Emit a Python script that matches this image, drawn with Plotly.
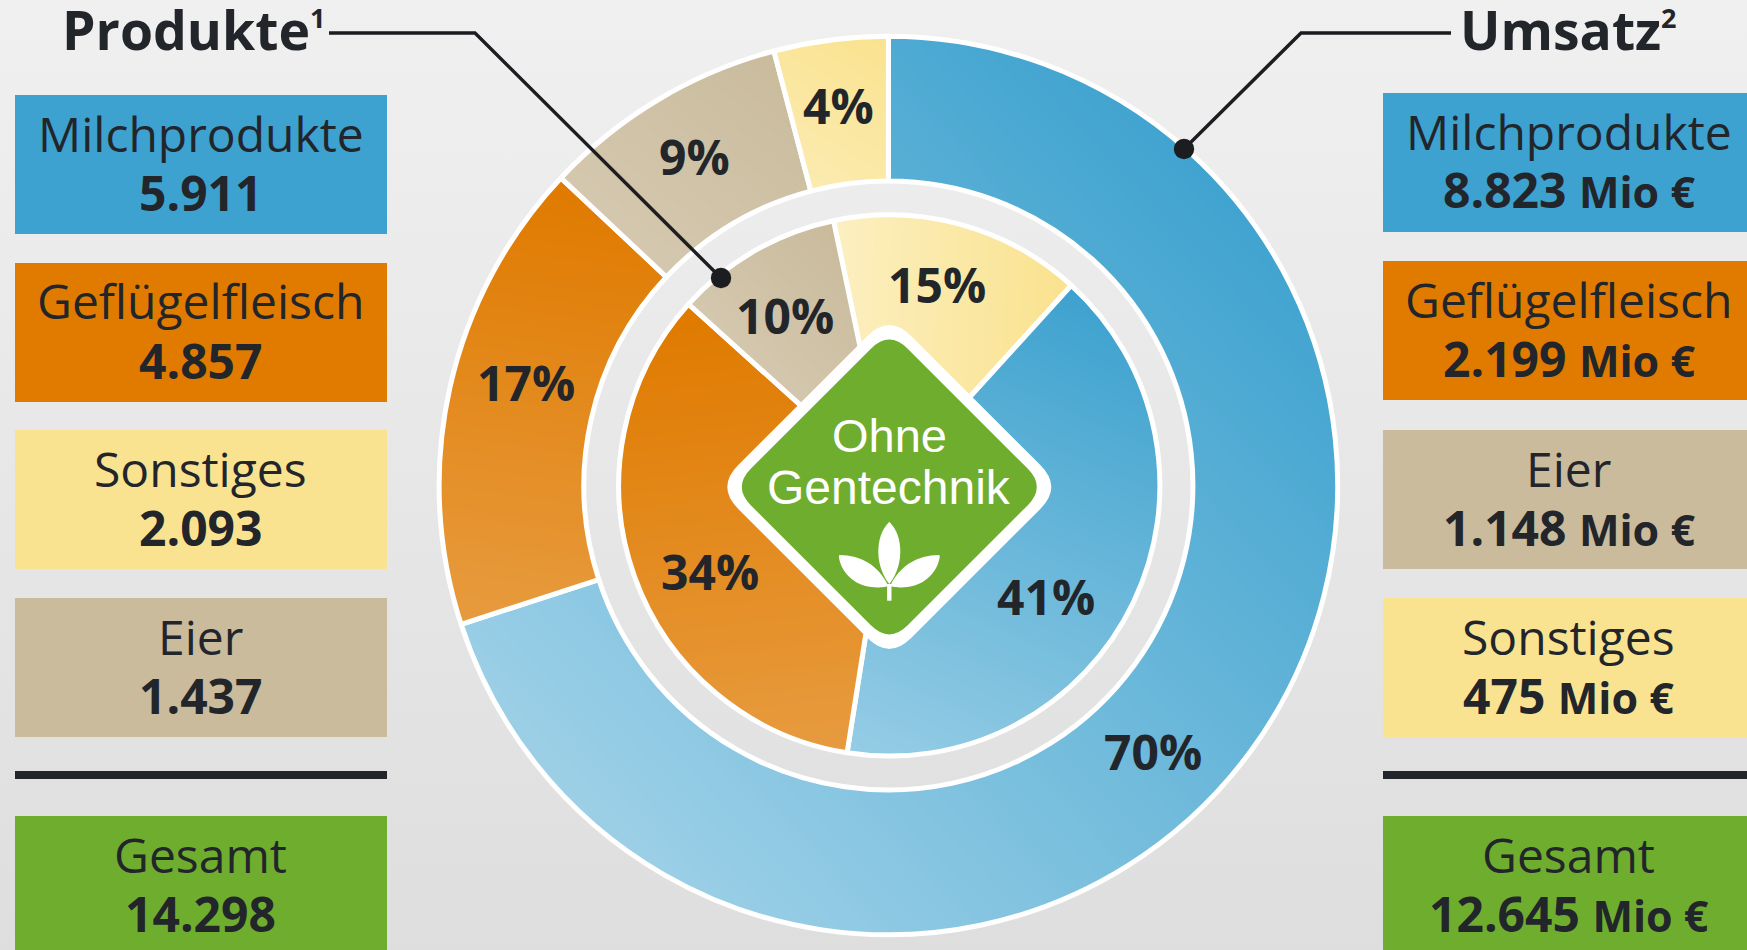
import base64
import math
import plotly.graph_objects as go

W, H = 1747, 950

# ---------- data ----------
product_categories = ["Milchprodukte", "Geflügelfleisch", "Sonstiges", "Eier"]
product_values = [5911, 4857, 2093, 1437]
product_total = 14298
revenue_categories = ["Milchprodukte", "Geflügelfleisch", "Eier", "Sonstiges"]
revenue_values = [8823, 2199, 1148, 475]
revenue_total = 12645
inner_ring_order = ["Sonstiges", "Milchprodukte", "Geflügelfleisch", "Eier"]
inner_ring_share = [15.05, 40.75, 34.2, 10.0]
outer_ring_order = ["Milchprodukte", "Geflügelfleisch", "Eier", "Sonstiges"]
outer_ring_share = [70, 17, 8.9, 4.1]
total_label = "Gesamt"
unit_label = "Mio €"
left_title = "Produkte"
left_note = "1"
right_title = "Umsatz"
right_note = "2"
badge_lines = ["Ohne", "Gentechnik"]

# ---------- styles and layout (pixels) ----------
INK = "#22262b"
LINE_INK = "#1c1d21"
COLORS = {"Milchprodukte": "#3da2cf", "Geflügelfleisch": "#e07b00",
          "Sonstiges": "#fae390", "Eier": "#cabb9c", total_label: "#6fad2f"}
CY = 485.5
CX_OUT, CX_IN = 888.4, 889.3
R_OUT, R_OUT_HOLE = 449.3, 304.5
R_IN = 270.6
ROT_IN, ROT_OUT = -11.9, 0.0
BORDER = 5
SANS = "Open Sans"
BADGE_FONT = "Liberation Sans"

# lightening overlay per slice: x1, y1, x2, y2, alpha at start, alpha at end
OUTER_GRAD = {"Milchprodukte": (1270, 180, 560, 860, 0.0, 0.52),
              "Geflügelfleisch": (560, 190, 500, 620, 0.0, 0.24),
              "Eier": (800, 60, 620, 280, 0.0, 0.22),
              "Sonstiges": (880, 40, 790, 190, 0.0, 0.32)}
INNER_GRAD = {"Milchprodukte": (1070, 280, 860, 760, 0.0, 0.46),
              "Geflügelfleisch": (690, 320, 740, 750, 0.0, 0.24),
              "Sonstiges": (1060, 280, 830, 270, 0.0, 0.45),
              "Eier": (850, 240, 700, 380, 0.0, 0.24)}
PCT_POS_OUT = {"Milchprodukte": (1153, 751), "Geflügelfleisch": (526, 382),
               "Eier": (694, 157), "Sonstiges": (838, 105)}
PCT_POS_IN = {"Milchprodukte": (1046, 596), "Geflügelfleisch": (710, 571),
              "Sonstiges": (937, 284), "Eier": (785, 316)}
LEFT_CALLOUT = [(329, 33), (475, 33), (721, 278)]
RIGHT_CALLOUT = [(1451, 33), (1301, 33), (1184, 149)]
DOT_R = 10.2
CALLOUT_W = 3.4


def px(x):
    return x / W


def py(y):
    return 1 - y / H


def de(n):
    return f"{n:,}".replace(",", ".")


def data_uri(svg):
    return "data:image/svg+xml;base64," + base64.b64encode(svg.encode()).decode()


def diamond(cx, cy, D, a):
    """Rounded diamond as SVG path in pixels."""
    s = a / math.sqrt(2)
    pts = [(cx, cy - D), (cx + D, cy), (cx, cy + D), (cx - D, cy)]
    d = ""
    for i, (x, y) in enumerate(pts):
        px0, py0 = pts[i - 1]
        nx, ny = pts[(i + 1) % 4]
        sx = x + (px0 - x) / abs(px0 - x) * s
        sy = y + (py0 - y) / abs(py0 - y) * s
        ex = x + (nx - x) / abs(nx - x) * s
        ey = y + (ny - y) / abs(ny - y) * s
        d += f"{'M' if i == 0 else 'L'}{sx},{sy} Q{x},{y} {ex},{ey} "
    return d + "Z"


def to_paper(path_px):
    """Converts an absolute M/L/C/Q/Z pixel path to paper coordinates."""
    res, is_x = [], True
    for tok in path_px.replace(",", " ").split():
        if tok[0] in "MLCQZ":
            res.append(tok[0])
            tok = tok[1:]
            is_x = True
        if tok:
            v = float(tok)
            res.append(f"{px(v):.6f}," if is_x else f"{py(v):.6f} ")
            is_x = not is_x
    return "".join(res)


def wedge(cx, r0, r1, a0, a1):
    def p(r, a):
        t = math.radians(a)
        return cx + r * math.sin(t), CY - r * math.cos(t)
    large = 1 if a1 - a0 > 180 else 0
    x0, y0 = p(r1, a0)
    x1, y1 = p(r1, a1)
    if r0 <= 0:
        return f"M{cx},{CY} L{x0},{y0} A{r1},{r1} 0 {large} 1 {x1},{y1} Z"
    x2, y2 = p(r0, a1)
    x3, y3 = p(r0, a0)
    return (f"M{x0},{y0} A{r1},{r1} 0 {large} 1 {x1},{y1} L{x2},{y2} "
            f"A{r0},{r0} 0 {large} 0 {x3},{y3} Z")


# ---------- pies ----------
def pie(order, vals, cx, r, hole, rot, name):
    return go.Pie(labels=order, values=vals, name=name, sort=False,
                  direction="clockwise", rotation=rot, hole=hole,
                  textinfo="none", hoverinfo="label+percent", showlegend=False,
                  domain=dict(x=[px(cx - r), px(cx + r)],
                              y=[py(CY + r), py(CY - r)]),
                  marker=dict(colors=[COLORS[c] for c in order],
                              line=dict(color="white", width=BORDER)))


fig = go.Figure([pie(outer_ring_order, outer_ring_share, CX_OUT, R_OUT, R_OUT_HOLE / R_OUT, ROT_OUT, "Umsatz"),
                 pie(inner_ring_order, inner_ring_share, CX_IN, R_IN, 0, ROT_IN, "Produkte")])

# ---------- background and gradient overlays ----------
bg_svg = (f'<svg xmlns="http://www.w3.org/2000/svg" width="{W}" height="{H}">'
          '<defs><linearGradient id="b" x1="0" y1="0" x2="0" y2="1">'
          '<stop offset="0" stop-color="#f0f0f0"/><stop offset="1" stop-color="#dedede"/>'
          f'</linearGradient></defs><rect width="{W}" height="{H}" fill="url(#b)"/></svg>')

BADGE_CX, BADGE_CY = 889.3, 487.0
white_diamond = diamond(BADGE_CX, BADGE_CY, 173, 31)

defs, paths = "", ""


def add_ring(order, vals, grads, cx, r0, r1, rot, tag):
    global defs, paths
    total = sum(vals)
    a = rot
    for c, v in zip(order, vals):
        sweep = 360 * v / total
        x1, y1, x2, y2, o1, o2 = grads[c]
        gid = f"{tag}{order.index(c)}"
        defs += (f'<linearGradient id="{gid}" gradientUnits="userSpaceOnUse" '
                 f'x1="{x1}" y1="{y1}" x2="{x2}" y2="{y2}">'
                 f'<stop offset="0" stop-color="#fff" stop-opacity="{o1}"/>'
                 f'<stop offset="1" stop-color="#fff" stop-opacity="{o2}"/></linearGradient>')
        paths += f'<path d="{wedge(cx, r0, r1, a, a + sweep)}" fill="url(#{gid})"/>'
        a += sweep


add_ring(outer_ring_order, outer_ring_share, OUTER_GRAD, CX_OUT, R_OUT_HOLE, R_OUT - 1, ROT_OUT, "o")
add_ring(inner_ring_order, inner_ring_share, INNER_GRAD, CX_IN, 0, R_IN - 1, ROT_IN, "i")


def poly(points):
    return "M" + " L".join(f"{x},{y}" for x, y in points)


mask_cut = f'<path d="{white_diamond}" fill="#000"/>'
for pts in (LEFT_CALLOUT, RIGHT_CALLOUT):
    mask_cut += (f'<path d="{poly(pts)}" fill="none" stroke="#000" '
                 f'stroke-width="{CALLOUT_W + 1.5}"/>'
                 f'<circle cx="{pts[-1][0]}" cy="{pts[-1][1]}" r="{DOT_R + 0.5}" fill="#000"/>')
overlay_svg = (f'<svg xmlns="http://www.w3.org/2000/svg" width="{W}" height="{H}">'
               f'<defs>{defs}<mask id="m" maskUnits="userSpaceOnUse" x="0" y="0" '
               f'width="{W}" height="{H}"><rect width="{W}" height="{H}" fill="#fff"/>'
               f'{mask_cut}</mask></defs><g mask="url(#m)">{paths}</g></svg>')

full = dict(xref="paper", yref="paper", x=0, y=1, sizex=1, sizey=1,
            xanchor="left", yanchor="top", sizing="stretch")
images = [dict(source=data_uri(bg_svg), layer="below", **full),
          dict(source=data_uri(overlay_svg), layer="above", **full)]

# ---------- boxes, badge ----------
shapes, annos = [], []


def rect(x0, y0, x1, y1, color):
    shapes.append(dict(type="rect", xref="paper", yref="paper", x0=px(x0), x1=px(x1),
                       y0=py(y1), y1=py(y0), fillcolor=color, line_width=0))


def text(x, y, s, size, weight=400, color=INK, family=SANS):
    annos.append(dict(xref="paper", yref="paper", x=px(x), y=py(y), text=s,
                      showarrow=False, xanchor="center", yanchor="middle",
                      align="center",
                      font=dict(family=family, size=size, color=color, weight=weight)))


LEFT_BOX = (15, 387, 200.7)
RIGHT_BOX = (1383, 1760, 1568.5)
LEFT_TOPS = [95, 263, 430, 598]
RIGHT_TOPS = [93, 261, 430, 598]
BOX_H = 139
TOTAL_TOP = 816
LABEL_DY, VALUE_DY = 38, 97


def column(box, tops, cats, vals, total, fmt):
    x0, x1, xc = box
    for top, c, v in zip(tops, cats, vals):
        rect(x0, top, x1, top + BOX_H, COLORS[c])
        text(xc, top + LABEL_DY, c, 48)
        text(xc, top + VALUE_DY, fmt(v), 48, 700)
    rect(x0, 771, x1, 779, INK)
    rect(x0, TOTAL_TOP, x1, H + 5, COLORS[total_label])
    text(xc, TOTAL_TOP + LABEL_DY, total_label, 48)
    text(xc, TOTAL_TOP + VALUE_DY, fmt(total), 48, 700)


column(LEFT_BOX, LEFT_TOPS, product_categories, product_values, product_total, de)
column(RIGHT_BOX, RIGHT_TOPS, revenue_categories, revenue_values, revenue_total,
       lambda v: f'{de(v)} <span style="font-size:43px">{unit_label}</span>')


def pshape(path, color):
    shapes.append(dict(type="path", xref="paper", yref="paper", path=to_paper(path),
                       fillcolor=color, line_width=0))


pshape(white_diamond, "white")
pshape(diamond(BADGE_CX, BADGE_CY, 156.7, 26), COLORS[total_label])
# leaf emblem
lx = BADGE_CX
pshape(f"M{lx},521.7 C{lx+8},530 {lx+11},540 {lx+11},552 C{lx+11},566 {lx+5},578 {lx},584 "
       f"C{lx-5},578 {lx-11},566 {lx-11},552 C{lx-11},540 {lx-8},530 {lx},521.7 Z", "white")
for sgn in (-1, 1):
    pshape(f"M{lx+sgn*50},555 C{lx+sgn*28},555 {lx+sgn*10},566 {lx+sgn*1},586 "
           f"C{lx+sgn*3},587 {lx+sgn*12},588 {lx+sgn*18},587 C{lx+sgn*36},585 {lx+sgn*48},572 "
           f"{lx+sgn*50.5},557 Z", "white")
pshape(f"M{lx-2.2},584 L{lx+2.2},584 L{lx+2.2},600.7 L{lx-2.2},600.7 Z", "white")

text(BADGE_CX, 436, badge_lines[0], 47, 400, "white", BADGE_FONT)
text(BADGE_CX, 487, badge_lines[1], 48, 400, "white", BADGE_FONT)

# ---------- percent labels ----------
for order, vals, pos in ((outer_ring_order, outer_ring_share, PCT_POS_OUT),
                         (inner_ring_order, inner_ring_share, PCT_POS_IN)):
    for c, v in zip(order, vals):
        text(*pos[c], f"{round(v)}%", 48, 700)

# ---------- titles and callouts ----------
text(185.5, 29, left_title, 53.5, 700)
text(317.5, 18, left_note, 27, 700)
text(1560.5, 29, right_title, 53.5, 700)
text(1668.5, 18, right_note, 27, 700)

for pts in (LEFT_CALLOUT, RIGHT_CALLOUT):
    shapes.append(dict(type="path", xref="paper", yref="paper",
                       path=to_paper(poly(pts).replace("L", " L")),
                       fillcolor="rgba(0,0,0,0)",
                       line=dict(color=LINE_INK, width=CALLOUT_W)))
    dx, dy = pts[-1]
    shapes.append(dict(type="circle", xref="paper", yref="paper",
                       x0=px(dx - DOT_R), x1=px(dx + DOT_R),
                       y0=py(dy + DOT_R), y1=py(dy - DOT_R),
                       fillcolor=LINE_INK, line_width=0))

fig.update_layout(width=W, height=H, margin=dict(l=0, r=0, t=0, b=0, pad=0),
                  paper_bgcolor="white", plot_bgcolor="rgba(0,0,0,0)",
                  showlegend=False, images=images, shapes=shapes, annotations=annos,
                  font=dict(family=SANS, color=INK))

fig.write_html("out.html", config=dict(displayModeBar=False),
               post_script="document.body.style.margin='0';")
